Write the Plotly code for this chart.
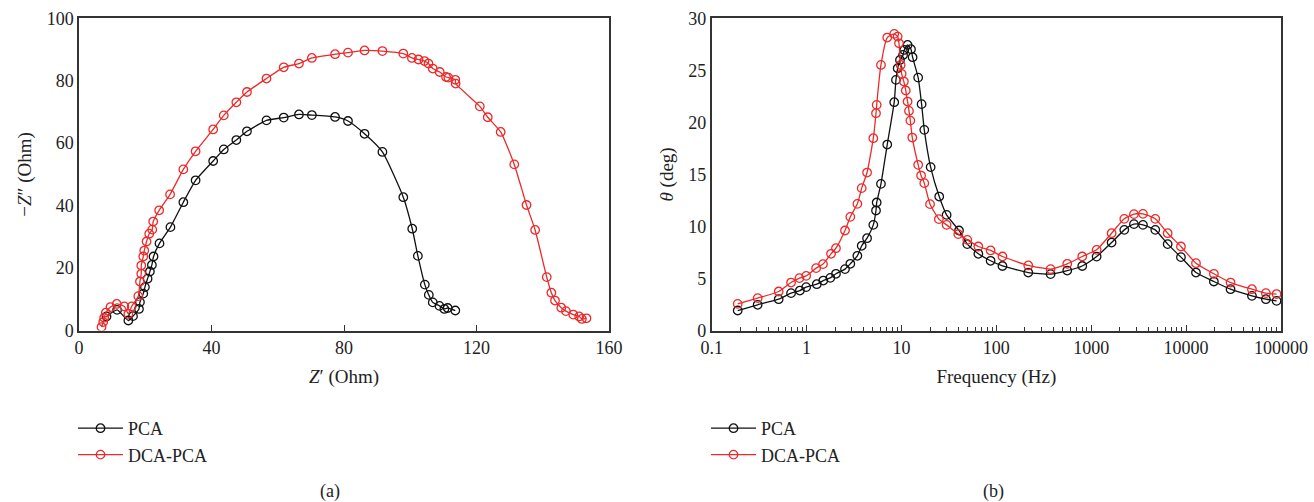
import plotly.graph_objects as go
from plotly.subplots import make_subplots

# Nyquist data, (a)
zre_pca = [8.3, 11.5, 14.9, 16.3, 18.1, 18.4, 19.4, 19.9, 20.7, 21.4, 22.0, 22.5, 24.3, 27.6, 31.5,
           35.2, 40.5, 43.7, 47.5, 50.7, 56.6, 61.8, 66.4, 70.3, 77.3, 81.2, 86.2, 91.6, 97.9, 100.6,
           102.3, 104.4, 105.6, 106.8, 108.8, 110.3, 111.3, 113.6]
zim_pca = [4.5, 6.6, 3.2, 4.6, 6.9, 9.1, 11.8, 13.9, 16.6, 18.9, 21.0, 23.7, 27.9, 33.1, 41.1,
           48.1, 54.3, 58.0, 61.0, 63.8, 67.3, 68.2, 69.2, 69.0, 68.4, 67.1, 63.0, 57.2, 42.7, 32.6,
           23.9, 14.7, 11.4, 9.0, 7.9, 6.9, 7.2, 6.4]

zre_dca = [6.8, 7.3, 7.6, 8.1, 9.5, 11.4, 13.7, 14.9, 15.9, 17.9, 18.4, 18.8, 18.8, 19.4, 19.7,
           20.4, 21.2, 22.1, 22.4, 24.2, 27.5, 31.5, 35.2, 40.5, 43.7, 47.5, 50.7, 56.6, 61.8, 66.4,
           70.3, 77.3, 81.2, 86.2, 91.6, 97.9, 100.5, 102.5, 104.3, 105.5, 106.8, 108.9, 110.8, 111.5,
           113.6, 113.7, 121.0, 123.4, 127.3, 131.4, 135.1, 137.7, 141.2, 142.6, 143.7, 145.6, 147.0,
           149.2, 151.0, 151.8, 153.2]
zim_dca = [1.1, 2.7, 4.1, 5.7, 7.5, 8.5, 7.7, 5.3, 7.7, 11.0, 15.7, 18.2, 20.8, 23.7, 25.6,
           28.5, 31.0, 32.3, 34.9, 38.5, 43.6, 51.6, 57.4, 64.4, 68.9, 73.1, 76.4, 80.7, 84.3, 85.5,
           87.3, 88.5, 89.0, 89.7, 89.5, 88.7, 87.3, 86.8, 86.3, 85.5, 83.9, 82.8, 81.2, 81.0,
           80.3, 79.1, 71.8, 68.3, 63.6, 53.2, 40.2, 32.2, 17.1, 12.1, 9.6, 7.3, 6.2,
           5.1, 4.5, 3.7, 3.9]

# Bode phase data, (b)
f_pca = [0.188, 0.305, 0.508, 0.686, 0.85, 0.99, 1.28, 1.5, 1.78, 2.04, 2.54, 2.89, 3.43, 3.81, 4.34,
         5.05, 5.39, 5.48, 6.08, 7.08, 8.39, 8.75, 9.12, 9.64, 10.4, 10.7, 11.6, 12.6, 13.1, 15.0,
         16.3, 17.4, 20.3, 25.0, 29.9, 40.4, 49.4, 64.6, 87, 116, 217, 373, 559, 804, 1140,
         1640, 2230, 2820, 3510, 4730, 6390, 8820, 12700, 19600, 29400, 49400, 69300, 89800]
th_pca = [1.92, 2.47, 3.01, 3.59, 3.84, 4.17, 4.45, 4.80, 5.06, 5.45, 5.9, 6.41, 7.18, 8.14, 8.87,
          10.15, 11.53, 12.3, 14.09, 17.87, 21.94, 24.08, 25.2, 26.0, 26.48, 26.96, 27.44, 27.03, 26.26, 24.3,
          21.75, 19.28, 15.7, 12.87, 11.11, 9.61, 8.3, 7.37, 6.7, 6.2, 5.57, 5.42, 5.76, 6.2, 7.1,
          8.45, 9.67, 10.22, 10.15, 9.67, 8.3, 7.05, 5.57, 4.71, 3.97, 3.33, 3.01, 2.85]

f_dca = [0.188, 0.305, 0.508, 0.686, 0.84, 0.99, 1.26, 1.49, 1.81, 2.04, 2.54, 2.89, 3.43, 3.81, 4.34,
         5.05, 5.39, 5.48, 6.08, 7.08, 8.39, 9.12, 9.42, 9.8, 10.05, 10.6, 11.1, 11.6, 12.0, 12.4,
         13.0, 15.0, 16.1, 17.4, 20.0, 24.8, 29.9, 39.7, 49.4, 64.6, 87, 116, 217, 373, 559,
         804, 1140, 1640, 2230, 2820, 3510, 4730, 6390, 8820, 12700, 19600, 29400, 49400, 69300, 89800]
th_dca = [2.56, 3.11, 3.75, 4.61, 5.03, 5.25, 5.99, 6.38, 7.37, 7.91, 9.61, 10.92, 12.17, 13.68, 15.18,
          18.48, 20.88, 21.68, 25.52, 28.15, 28.5, 28.24, 27.6, 25.52, 24.66, 23.92, 23.06, 22.0, 21.1, 20.17,
          18.54, 15.92, 14.89, 14.16, 12.14, 10.7, 10.15, 9.26, 8.71, 8.07, 7.69, 7.11, 6.25, 5.9, 6.41,
          7.11, 7.75, 9.35, 10.73, 11.18, 11.21, 10.73, 9.35, 8.07, 6.47, 5.45, 4.61, 3.97, 3.59, 3.5]

BLACK = "#111111"
RED = "#ec2a2a"
FONT = "Liberation Serif"
W, H = 1314, 502


def mk(color):
    return dict(symbol="circle-open", size=8.5, color=color, line=dict(width=1.3, color=color))


def ln(color):
    return dict(color=color, width=1.3, shape="spline", smoothing=0.5)


fig = make_subplots(rows=1, cols=2)

fig.add_trace(go.Scatter(x=zre_pca, y=zim_pca, name="PCA", mode="lines+markers",
                         line=ln(BLACK), marker=mk(BLACK), legend="legend"), row=1, col=1)
fig.add_trace(go.Scatter(x=zre_dca, y=zim_dca, name="DCA-PCA", mode="lines+markers",
                         line=ln(RED), marker=mk(RED), legend="legend"), row=1, col=1)
fig.add_trace(go.Scatter(x=f_pca, y=th_pca, name="PCA", mode="lines+markers",
                         line=ln(BLACK), marker=mk(BLACK), legend="legend2"), row=1, col=2)
fig.add_trace(go.Scatter(x=f_dca, y=th_dca, name="DCA-PCA", mode="lines+markers",
                         line=ln(RED), marker=mk(RED), legend="legend2"), row=1, col=2)

axis_common = dict(showline=True, linecolor="#333333", linewidth=1.5, mirror=True,
                   showgrid=False, zeroline=False, automargin=False,
                   tickfont=dict(family=FONT, size=18, color="#222222"))
title_font = dict(family=FONT, size=19, color="#222222")

ydom = [1 - 330.5 / H, 1 - 18.3 / H]
fig.update_xaxes(axis_common, row=1, col=1, domain=[79 / W, 609 / W], range=[0, 160], dtick=40,
                 ticks="inside", ticklen=6, tickcolor="#333333",
                 title=dict(text="<i>Z</i>′ (Ohm)", font=title_font, standoff=13))
fig.update_yaxes(axis_common, row=1, col=1, domain=ydom, range=[0, 100], dtick=20, ticks="",
                 title=dict(text="−<i>Z</i>″ (Ohm)", font=title_font, standoff=10))
fig.update_xaxes(axis_common, row=1, col=2, domain=[711.7 / W, 1281 / W], type="log",
                 range=[-1, 5], dtick=1, tickformat="~g",
                 ticks="inside", ticklen=6, tickcolor="#333333",
                 minor=dict(ticks="inside", ticklen=4, tickcolor="#333333", dtick="D1", showgrid=False),
                 title=dict(text="Frequency (Hz)", font=title_font, standoff=13))
fig.update_yaxes(axis_common, row=1, col=2, domain=ydom, range=[0, 30], dtick=5, ticks="",
                 title=dict(text="<i>θ</i> (deg)", font=title_font, standoff=10))

leg = dict(font=dict(family=FONT, size=18, color="#222222"), bgcolor="rgba(0,0,0,0)",
           yanchor="top", xanchor="left", tracegroupgap=2, itemwidth=45)
fig.update_layout(
    width=W, height=H,
    margin=dict(l=0, r=0, t=0, b=0),
    paper_bgcolor="white", plot_bgcolor="white",
    showlegend=True,
    legend=dict(leg, x=73 / W, y=1 - 410 / H),
    legend2=dict(leg, x=706 / W, y=1 - 410 / H),
    annotations=[
        dict(text="(a)", x=330 / W, y=1 - 491 / H, xref="paper", yref="paper", showarrow=False,
             xanchor="center", yanchor="middle", font=dict(family=FONT, size=18, color="#222222")),
        dict(text="(b)", x=993 / W, y=1 - 491 / H, xref="paper", yref="paper", showarrow=False,
             xanchor="center", yanchor="middle", font=dict(family=FONT, size=18, color="#222222")),
    ],
)

# the page body has a default 8px margin; drop it so the figure sits at the window origin
fig.write_html("out.html", config={"displayModeBar": False},
               post_script="document.body.style.margin='0';")
